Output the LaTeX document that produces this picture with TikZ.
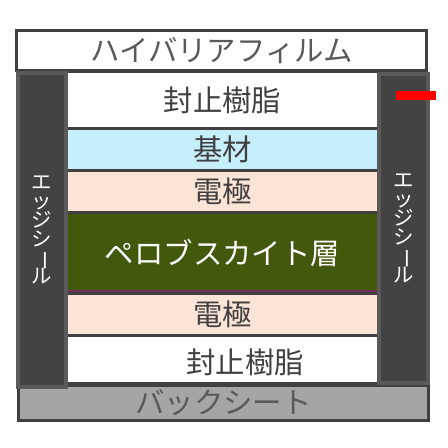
\documentclass[tikz,border=0pt]{standalone}
\usepackage{fontspec}
\setmainfont{Noto Sans CJK JP}
\usetikzlibrary{positioning}

\definecolor{linegray}{HTML}{404040}
\definecolor{textgray}{HTML}{595959}
\definecolor{sealfill}{HTML}{434343}
\definecolor{sealline}{HTML}{5A5A5A}
\definecolor{basefill}{HTML}{C7EEFB}
\definecolor{elecfill}{HTML}{FCE4D6}
\definecolor{perofill}{HTML}{42590D}
\definecolor{perolinec}{HTML}{7B2C5E}
\definecolor{backfill}{HTML}{A5A5A5}

\newcommand{\vbar}{\rotatebox[origin=c]{-90}{ー}}

\begin{document}
\begin{tikzpicture}[x=1bp, y=-1bp,
    layer/.style={draw=linegray, line width=3bp, inner sep=0pt, minimum width=311bp,
      text=linegray, font=\fontsize{29.5}{32}\selectfont},
    outer/.style={draw=linegray, line width=3.5bp, inner sep=0pt, text=textgray,
      font=\fontsize{29.5}{32}\selectfont},
    seal/.style={draw=sealline, fill=sealfill, line width=4bp, inner sep=0pt, text=white,
      align=center, font={\fontsize{20.5}{19}\selectfont},
      execute at begin node={\lineskiplimit=-30pt\relax}}]
    \useasboundingbox (0,0) rectangle (448,448);
    % covering film on top
    \node[outer, fill=white, minimum width=410bp, minimum height=40bp] (film) at (221.5,50.5) {ハイバリアフィルム};
    % stack of layers
    \node[layer, fill=white, minimum height=56.5bp] (resinTop) at (222.5,100.25) {封止樹脂};
    \node[layer, fill=basefill, minimum height=42bp] (base) at (222.5,149.5) {基材};
    \node[layer, fill=elecfill, minimum height=42.5bp] (elecTop) at (222.5,191.75) {電極};
    \node[layer, fill=perofill, text=white, minimum height=80bp] (pero) at (222.5,253) {ペロブスカイト層};
    \draw[perolinec, line width=3bp] ([yshift=3.5bp]pero.south west) -- ([yshift=3.5bp]pero.south east);
    \node[layer, fill=elecfill, minimum height=42bp] (elecBot) at (222.5,314) {電極};
    \node[layer, fill=white, minimum height=48bp] (resinBot) at (222.5,359) {};
    \node[text=linegray, font=\fontsize{29.5}{32}\selectfont, inner sep=0pt] (resinBotText) at (245,362) {封止樹脂};
    % back sheet
    \node[outer, fill=backfill, minimum width=409.5bp, minimum height=35.5bp] (back) at (223.5,402.5) {バックシート};
    % edge seals
    \node[seal, minimum width=48bp, minimum height=313bp] (sealL) at (42,230) {エ\\ッ\\ジ\\シ\\\vbar\\ル};
    \node[seal, minimum width=49bp, minimum height=309bp] (sealR) at (403.5,228.5) {エ\\ッ\\ジ\\シ\\\vbar\\ル};
    \draw[red, line width=9bp] (396,95.5) -- (436,95.5);
\end{tikzpicture}
\end{document}
